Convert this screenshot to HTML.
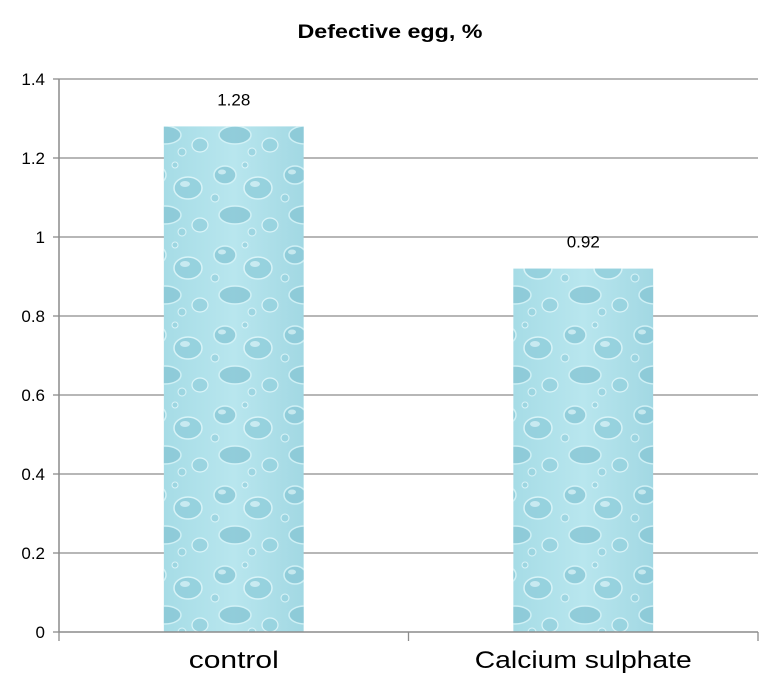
<!DOCTYPE html>
<html><head><meta charset="utf-8">
<style>
body{margin:0;background:#fff;}
svg{display:block;font-family:"Liberation Sans",sans-serif;}
</style></head>
<body>
<svg id="chart" width="774" height="679">
<defs>
<linearGradient id="bg" x1="0" y1="0" x2="1" y2="0">
<stop offset="0" stop-color="#a6dce6"/><stop offset="0.5" stop-color="#b8e6ee"/><stop offset="1" stop-color="#a2d8e3"/>
</linearGradient>
<pattern id="drops" width="70" height="80" patternUnits="userSpaceOnUse">
<ellipse cx="15" cy="15" rx="11" ry="9" fill="#8ccad8" stroke="#d6f3f7" stroke-width="1.5"/>
<ellipse cx="48" cy="28" rx="14" ry="11" fill="#92cfdc" stroke="#dff6f9" stroke-width="1.5"/>
<ellipse cx="25" cy="55" rx="16" ry="9" fill="#8ac8d6" stroke="#d6f3f7" stroke-width="1.5"/>
<ellipse cx="60" cy="65" rx="8" ry="7" fill="#96d2de" stroke="#e2f7fa" stroke-width="1.2"/>
<circle cx="5" cy="38" r="4" fill="#9ad4e0" stroke="#e2f7fa"/>
<circle cx="35" cy="5" r="3" fill="#9ad4e0" stroke="#e2f7fa"/>
<circle cx="42" cy="72" r="4" fill="#9ad4e0" stroke="#e2f7fa"/>
<ellipse cx="45" cy="24" rx="5" ry="3" fill="#e6f8fb" opacity="0.7"/>
<ellipse cx="12" cy="12" rx="4" ry="2.5" fill="#e6f8fb" opacity="0.7"/>
</pattern>
</defs>
<text x="390" y="38" text-anchor="middle" font-size="19" font-weight="bold" textLength="185" lengthAdjust="spacingAndGlyphs">Defective egg, %</text>
<g id="grid"></g>
<g id="bars"></g>
<g id="axes"></g>
</svg>
<script>
const categories = ["control", "Calcium sulphate"];
const values = [1.28, 0.92];
const valueLabels = ["1.28", "0.92"];
const yTicks = [0, 0.2, 0.4, 0.6, 0.8, 1, 1.2, 1.4];
const yTickLabels = ["0", "0.2", "0.4", "0.6", "0.8", "1", "1.2", "1.4"];

const NS = "http://www.w3.org/2000/svg";
const x0 = 59, x1 = 758, yTop = 79, yBot = 632, yMax = 1.4;
const y = v => yBot - (v / yMax) * (yBot - yTop);
const band = (x1 - x0) / categories.length;
const xc = i => x0 + band * (i + 0.5);
function mk(tag, attrs, parent) {
  const e = document.createElementNS(NS, tag);
  for (const k in attrs) e.setAttribute(k, attrs[k]);
  parent.appendChild(e);
  return e;
}
const grid = document.getElementById("grid"), bars = document.getElementById("bars"), axes = document.getElementById("axes");
yTicks.forEach((t, i) => {
  if (t > 0) {
    const g = mk("line", {x1: x0, x2: x1, y1: y(t), y2: y(t), stroke: "#8c8c8c", "stroke-width": 1.3}, grid);
    
    
  }
  const tk = mk("line", {x1: x0 - 6, x2: x0, y1: y(t), y2: y(t), stroke: "#8c8c8c", "stroke-width": 1.3}, axes);
  
  
  const lb = mk("text", {x: 45, y: y(t) + 6, "text-anchor": "end", "font-size": 17}, axes);
  lb.textContent = yTickLabels[i];
  
  
});
const bw = band * 0.4;
const catLen = [90, 217];
categories.forEach((c, i) => {
  const top = y(values[i]);
  const r1 = mk("rect", {x: xc(i) - bw / 2, y: top, width: bw, height: yBot - top, fill: "url(#bg)"}, bars);
  
  
  const r2 = mk("rect", {x: xc(i) - bw / 2, y: top, width: bw, height: yBot - top, fill: "url(#drops)", opacity: 0.85}, bars);
  
  
  const vl = mk("text", {x: xc(i), y: top - 21, "text-anchor": "middle", "font-size": 17}, bars);
  vl.textContent = valueLabels[i];
  
  
  const cl = mk("text", {x: xc(i), y: 668, "text-anchor": "middle", "font-size": 24, textLength: catLen[i], lengthAdjust: "spacingAndGlyphs"}, axes);
  cl.textContent = c;
  
  
});
for (let i = 0; i <= categories.length; i++) {
  const t = mk("line", {x1: x0 + band * i, x2: x0 + band * i, y1: yBot, y2: yBot + 9, stroke: "#8c8c8c", "stroke-width": 1.3}, axes);
  
  
}
const ya = mk("line", {x1: x0, x2: x0, y1: yTop, y2: yBot, stroke: "#8c8c8c", "stroke-width": 1.5}, axes);


const xa = mk("line", {x1: x0, x2: x1, y1: yBot, y2: yBot, stroke: "#8c8c8c", "stroke-width": 1.5}, axes);


</script>
</body></html>
